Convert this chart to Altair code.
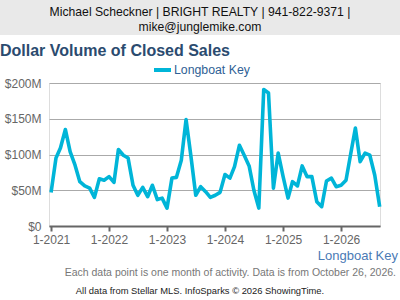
import altair as alt
import pandas as pd

# Monthly dollar volume of closed sales, Longboat Key (millions of USD), Jan 2021 - Sep 2026
volume_2021 = [47, 95, 109, 135, 104, 85, 62, 56, 53, 40, 66, 64]
volume_2022 = [69, 61, 107, 99, 95, 57, 43, 54, 41, 57, 37, 39]
volume_2023 = [25, 67, 68, 92, 149, 97, 43, 55, 48, 40, 43, 47]
volume_2024 = [72, 67, 83, 113, 99, 84, 50, 25, 191, 186, 53, 102]
volume_2025 = [69, 39, 62, 56, 84, 69, 69, 34, 27, 63, 67, 55]
volume_2026 = [57, 64, 99, 137, 90, 102, 99, 71, 27]

years = [2021, 2022, 2023, 2024, 2025, 2026]
series = [volume_2021, volume_2022, volume_2023, volume_2024, volume_2025, volume_2026]

rows = []
for yr, vals in zip(years, series):
    for m, v in enumerate(vals, start=1):
        rows.append({"date": f"{yr}-{m:02d}-01T00:00:00", "volume": v, "area": "Longboat Key"})
df = pd.DataFrame(rows)

LINE_COLOR = "#00b5d8"
TITLE_COLOR = "#2b4b6f"
FONT = "Liberation Sans"

W, H = 331, 143
LEFT, TOP = 49, 83

line = alt.Chart(df).mark_line(color=LINE_COLOR, strokeWidth=3.6, strokeJoin="round").encode(
    x=alt.X(
        "date:T",
        title=None,
        scale=alt.Scale(domain=[alt.DateTime(year=2020, month=12, date=19),
                                alt.DateTime(year=2026, month=9, date=3)]),
        axis=alt.Axis(
            format="%-m-%Y",
            tickCount={"interval": "year", "step": 1},
            grid=False,
            domainColor="#666666",
            domainWidth=2,
            tickColor="#666666",
            tickWidth=2,
            tickSize=5,
            labelColor="#666666",
            labelFontSize=12,
            labelPadding=3,
            labelFont=FONT,
        ),
    ),
    y=alt.Y(
        "volume:Q",
        title=None,
        scale=alt.Scale(domain=[0, 200], nice=False),
        axis=alt.Axis(
            values=[0, 50, 100, 150, 200],
            labelExpr="datum.value == 0 ? '$0' : '$' + datum.value + 'M'",
            domain=False,
            ticks=False,
            gridColor="#aaaaaa",
            gridWidth=1,
            labelColor="#666666",
            labelFontSize=12,
            labelPadding=8,
            labelFont=FONT,
        ),
    ),
)

one = pd.DataFrame({"k": [0]})

header_band = alt.Chart(one).mark_rect(color="#e9e9e9").encode(
    x=alt.value(-LEFT), x2=alt.value(400 - LEFT), y=alt.value(-TOP), y2=alt.value(35 - TOP)
)


def label(text, x, y, size, color, align="left", weight="normal", baseline="middle"):
    return alt.Chart(one).mark_text(
        text=text, align=align, baseline=baseline, fontSize=size, color=color,
        fontWeight=weight, font=FONT,
    ).encode(x=alt.value(x - LEFT), y=alt.value(y - TOP))


header1 = label("Michael Scheckner | BRIGHT REALTY | 941-822-9371 |", 200, 12, 12.2, "#111111", align="center")
header2 = label("mike@junglemike.com", 200, 27, 12.2, "#111111", align="center")
title = label("Dollar Volume of Closed Sales", 0, 56, 16, TITLE_COLOR, weight="bold", baseline="alphabetic")

legend_swatch = alt.Chart(one).mark_rule(color=LINE_COLOR, strokeWidth=4).encode(
    x=alt.value(154 - LEFT), x2=alt.value(171 - LEFT), y=alt.value(70 - TOP)
)
legend_text = label("Longboat Key", 174, 70, 12.3, "#2f5f95")

area_note = label("Longboat Key", 398, 256, 13, "#4a7ab5", align="right")
footnote = label("Each data point is one month of activity. Data is from October 26, 2026.",
                 396, 272.5, 10.5, "#777777", align="right")
credit = label("All data from Stellar MLS. InfoSparks \u00a9 2026 ShowingTime.", 200, 291, 9.4, "#222222",
               align="center")

chart = alt.layer(
    header_band, line, header1, header2, title, legend_swatch, legend_text, area_note, footnote, credit
).properties(
    width=W,
    height=H,
    autosize=alt.AutoSizeParams(type="none"),
    padding={"left": LEFT, "top": TOP, "right": 400 - LEFT - W, "bottom": 300 - TOP - H},
).configure_view(
    stroke=None
).configure(
    font=FONT, background="white"
)

chart.save("out.html", embed_options={"renderer": "svg", "actions": False})
